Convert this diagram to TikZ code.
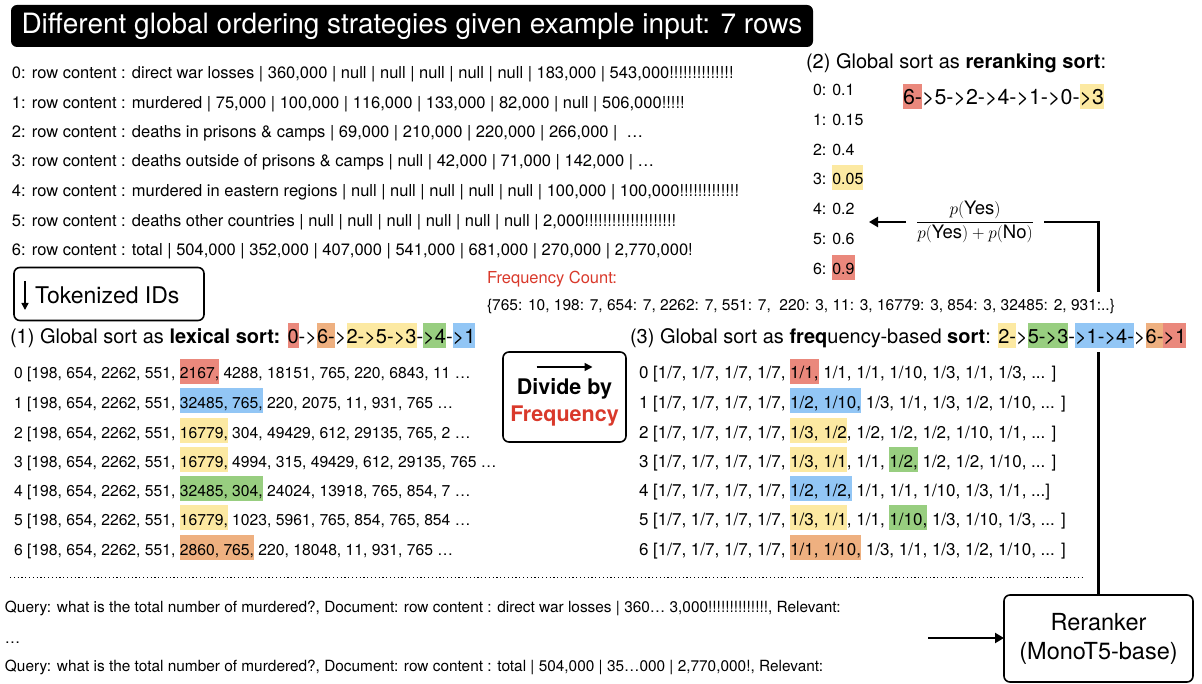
\documentclass[tikz,border=0pt]{standalone}
\usepackage{fontspec}
\setmainfont{TeX Gyre Heros}
\usetikzlibrary{arrows.meta}
\definecolor{hred}{RGB}{234,136,124}
\definecolor{horange}{RGB}{238,176,128}
\definecolor{hyellow}{RGB}{252,233,162}
\definecolor{hgreen}{RGB}{152,206,128}
\definecolor{hblue}{RGB}{146,198,245}
\definecolor{fred}{RGB}{217,57,43}
\newcommand\hlr[2]{{\setlength{\fboxsep}{0pt}\colorbox{#1}{\rule[-5pt]{0pt}{25pt}#2}}}
\newcommand\hlh[2]{{\setlength{\fboxsep}{0pt}\colorbox{#1}{\rule[-4pt]{0pt}{25pt}#2}}}
\begin{document}
\begin{tikzpicture}[x=1pt,y=-1pt,
  every node/.style={inner sep=0pt, outer sep=0pt},
  rowtxt/.style={anchor=base west, font=\fontsize{16.5}{18}\selectfont},
  lextxt/.style={anchor=base west, font=\fontsize{15.7}{18}\selectfont},
  frqtxt/.style={anchor=base west, font=\fontsize{17}{19}\selectfont},
  sctxt/.style={anchor=base west, font=\fontsize{16}{18}\selectfont},
  qtxt/.style={anchor=base west, font=\fontsize{15.4}{17}\selectfont},
  head/.style={anchor=base west, font=\fontsize{20}{22}\selectfont},
  boxnode/.style={draw, line width=1.6pt, rounded corners=6pt},
  conn/.style={line width=2.2pt},
  arr/.style={line width=2.2pt, -{Triangle[length=9pt,width=10pt]}}]
\useasboundingbox (0,0) rectangle (1202,684);

% title
\node[fill=black, rounded corners=6pt, minimum width=802pt, minimum height=42pt,
      text=white, font=\fontsize{28}{32}\selectfont] (title) at (412,26)
  {Different global ordering strategies given example input: 7 rows};

% table rows
\node[rowtxt] (t0) at (12,79)  {0: row content : direct war losses | 360,000 | null | null | null | null | null | 183,000 | 543,000!!!!!!!!!!!!!!};
\node[rowtxt] (t1) at (12,109) {1: row content : murdered | 75,000 | 100,000 | 116,000 | 133,000 | 82,000 | null | 506,000!!!!!};
\node[rowtxt] (t2) at (12,138) {2: row content : deaths in prisons \& camps | 69,000 | 210,000 | 220,000 | 266,000 |\ \ …};
\node[rowtxt] (t3) at (12,167) {3: row content : deaths outside of prisons \& camps | null | 42,000 | 71,000 | 142,000 | …};
\node[rowtxt] (t4) at (12,197) {4: row content : murdered in eastern regions | null | null | null | null | null | 100,000 | 100,000!!!!!!!!!!!!!};
\node[rowtxt] (t5) at (12,227) {5: row content : deaths other countries | null | null | null | null | null | null | 2,000!!!!!!!!!!!!!!!!!!!!};
\node[rowtxt] (t6) at (12,256) {6: row content : total | 504,000 | 352,000 | 407,000 | 541,000 | 681,000 | 270,000 | 2,770,000!};

% reranking sort
\node[head] (rrh) at (806,69) {(2) Global sort as \textbf{reranking sort}:};
\node[sctxt] (s0) at (813,96)  {0: 0.1};
\node[sctxt] (s1) at (813,126) {1: 0.15};
\node[sctxt] (s2) at (813,156) {2: 0.4};
\node[sctxt] (s3) at (813,185) {3: \hlr{hyellow}{0.05}};
\node[sctxt] (s4) at (813,215) {4: 0.2};
\node[sctxt] (s5) at (813,245) {5: 0.6};
\node[sctxt] (s6) at (813,275) {6: \hlr{hred}{0.9}};
\node[anchor=base west, font=\fontsize{21.4}{24}\selectfont] (rro) at (903,105)
  {\hlh{hred}{6-}>5->2->4->1->0-\hlh{hyellow}{>3}};
\node[font=\fontsize{18.5}{20}\selectfont] (frac) at (975,222)
  {$\displaystyle\frac{p(\mbox{Yes})}{p(\mbox{Yes})+p(\mbox{No})}$};
\coordinate (sc) at (869,222);
\draw[arr] ([xshift=-10pt]frac.west) -- (sc);

% tokenized IDs
\node[boxnode, minimum width=190pt, minimum height=53pt] (tok) at (109,294) {};
\node[anchor=west, font=\fontsize{23}{26}\selectfont] (tokt) at (35,295) {Tokenized IDs};
\draw[line width=1.6pt, -{Triangle[length=7pt,width=7pt]}] ([xshift=11pt,yshift=13pt]tok.west) -- ([xshift=11pt,yshift=-16pt]tok.west);

% frequency count
\node[anchor=base west, font=\fontsize{16.5}{18}\selectfont, text=fred] (fc) at (487,284) {Frequency Count:};
\node[anchor=base west, font=\fontsize{15.5}{18}\selectfont] (fd) at (487,311)
  {\{765: 10, 198: 7, 654: 7, 2262: 7, 551: 7, \ 220: 3, 11: 3, 16779: 3, 854: 3, 32485: 2, 931:..\}};

% lexical sort
\node[head] (lex) at (10,344) {(1) Global sort as \textbf{lexical sort:} \hlh{hred}{0}->\hlh{horange}{6-}>\hlh{hyellow}{2->5->3}-\hlh{hgreen}{>4}-\hlh{hblue}{>1}};
\node[lextxt] (l0) at (14,379) {0 [198, 654, 2262, 551, \hlr{hred}{2167,} 4288, 18151, 765, 220, 6843, 11 …};
\node[lextxt] (l1) at (14,408) {1 [198, 654, 2262, 551, \hlr{hblue}{32485, 765,} 220, 2075, 11, 931, 765 …};
\node[lextxt] (l2) at (14,438) {2 [198, 654, 2262, 551, \hlr{hyellow}{16779,} 304, 49429, 612, 29135, 765, 2 …};
\node[lextxt] (l3) at (14,467) {3 [198, 654, 2262, 551, \hlr{hyellow}{16779,} 4994, 315, 49429, 612, 29135, 765 …};
\node[lextxt] (l4) at (14,496) {4 [198, 654, 2262, 551, \hlr{hgreen}{32485, 304,} 24024, 13918, 765, 854, 7 …};
\node[lextxt] (l5) at (14,525) {5 [198, 654, 2262, 551, \hlr{hyellow}{16779,} 1023, 5961, 765, 854, 765, 854 …};
\node[lextxt] (l6) at (14,555) {6 [198, 654, 2262, 551, \hlr{horange}{2860, 765,} 220, 18048, 11, 931, 765 …};

% divide by frequency
\node[boxnode, minimum width=123pt, minimum height=90pt] (div) at (564.5,397) {};
\node[font=\bfseries\fontsize{21.5}{27}\selectfont, align=center] (divt) at (564.5,402) {Divide by\\\textcolor{fred}{Frequency}};
\draw[line width=1.6pt, -{Triangle[length=8pt,width=8pt]}] ([xshift=-28pt,yshift=30pt]div.center) -- ([xshift=28pt,yshift=30pt]div.center);

% frequency-based sort
\node[head] (frq) at (630,344) {(3) Global sort as \textbf{freq}uency-based \textbf{sort}: \hlh{hyellow}{2-}>\hlh{hgreen}{5->3}-\hlh{hblue}{>1->4-}>\hlh{horange}{6-}\hlh{hred}{>1}};
\node[frqtxt] (f0) at (639,379) {0 [1/7, 1/7, 1/7, 1/7, \hlr{hred}{1/1,} 1/1, 1/1, 1/10, 1/3, 1/1, 1/3, ... ]};
\node[frqtxt] (f1) at (639,408) {1 [1/7, 1/7, 1/7, 1/7, \hlr{hblue}{1/2, 1/10,} 1/3, 1/1, 1/3, 1/2, 1/10, ... ]};
\node[frqtxt] (f2) at (639,438) {2 [1/7, 1/7, 1/7, 1/7, \hlr{hyellow}{1/3, 1/2}, 1/2, 1/2, 1/2, 1/10, 1/1, ... ]};
\node[frqtxt] (f3) at (639,467) {3 [1/7, 1/7, 1/7, 1/7, \hlr{hyellow}{1/3, 1/1}, 1/1, \hlr{hgreen}{1/2,} 1/2, 1/2, 1/10, ... ]};
\node[frqtxt] (f4) at (639,496) {4 [1/7, 1/7, 1/7, 1/7, \hlr{hblue}{1/2, 1/2,} 1/1, 1/1, 1/10, 1/3, 1/1, ...]};
\node[frqtxt] (f5) at (639,525) {5 [1/7, 1/7, 1/7, 1/7, \hlr{hyellow}{1/3, 1/1}, 1/1, \hlr{hgreen}{1/10,} 1/3, 1/10, 1/3, ... ]};
\node[frqtxt] (f6) at (639,555) {6 [1/7, 1/7, 1/7, 1/7, \hlr{horange}{1/1, 1/10,} 1/3, 1/1, 1/3, 1/2, 1/10, ... ]};

% separator
\draw[line width=1pt, dash pattern=on 1.2pt off 2.6pt] (10,577) -- (1082,577);

% queries
\node[qtxt] (q1) at (5,612) {Query: what is the total number of murdered?, Document: row content : direct war losses | 360… 3,000!!!!!!!!!!!!!!, Relevant:};
\node[qtxt] (q2) at (5,643) {…};
\node[qtxt] (q3) at (5,671) {Query: what is the total number of murdered?, Document: row content : total | 504,000 | 35…000 | 2,770,000!, Relevant:};

% reranker
\node[boxnode, minimum width=189pt, minimum height=87pt, align=center,
      font=\fontsize{23.5}{29}\selectfont] (rer) at (1098.5,638.5) {Reranker\\(MonoT5-base)};
\coordinate (qa) at (928,638);
\draw[arr] (qa) -- (qa -| rer.west);
\coordinate (gapB) at (1098.5,352);
\coordinate (gapT) at (1098.5,292);
\draw[conn] (rer.north) -- (gapB);
\draw[conn] (gapT) -- (gapT |- frac) -- ([xshift=10pt]frac.east);
\end{tikzpicture}
\end{document}
